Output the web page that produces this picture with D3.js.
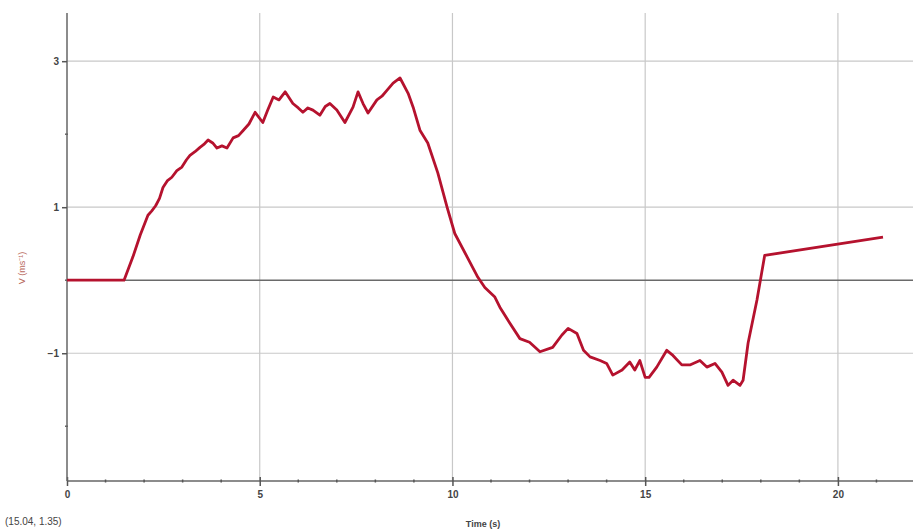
<!DOCTYPE html>
<html><head><meta charset="utf-8">
<script src="https://cdn.jsdelivr.net/npm/d3@7"></script>
<style>
body{margin:0;background:#fff;}
svg{display:block;font-family:"Liberation Sans",Arial,sans-serif;}
</style></head>
<body><svg id="c" width="913" height="530"></svg>
<script>
const time = [0,1.48,1.71,1.9,2.10,2.2,2.3,2.4,2.49,2.6,2.72,2.85,2.98,3.1,3.19,3.32,3.45,3.55,3.66,3.78,3.89,4.02,4.15,4.31,4.45,4.57,4.72,4.88,5.08,5.2,5.35,5.5,5.66,5.86,6.0,6.12,6.25,6.38,6.56,6.7,6.82,7.0,7.21,7.42,7.55,7.68,7.81,8.04,8.17,8.3,8.46,8.64,8.85,8.98,9.16,9.36,9.62,9.86,10.06,10.38,10.66,10.84,11.1,11.23,11.49,11.75,12.0,12.27,12.6,12.84,13.0,13.23,13.4,13.57,13.83,14.0,14.16,14.4,14.6,14.73,14.86,15.0,15.1,15.3,15.56,15.72,15.95,16.16,16.42,16.6,16.81,16.99,17.15,17.28,17.46,17.54,17.67,17.9,18.1,21.17];
const velocity = [0,0,0.32,0.62,0.89,0.95,1.02,1.12,1.27,1.36,1.41,1.5,1.55,1.65,1.71,1.76,1.82,1.86,1.92,1.88,1.81,1.84,1.81,1.95,1.98,2.05,2.14,2.30,2.16,2.32,2.51,2.47,2.58,2.42,2.36,2.30,2.36,2.33,2.26,2.38,2.42,2.33,2.16,2.37,2.58,2.42,2.29,2.47,2.52,2.60,2.70,2.77,2.56,2.37,2.05,1.88,1.47,1.0,0.64,0.32,0.04,-0.1,-0.23,-0.37,-0.59,-0.8,-0.85,-0.98,-0.92,-0.75,-0.66,-0.73,-0.96,-1.05,-1.1,-1.14,-1.3,-1.23,-1.12,-1.23,-1.1,-1.33,-1.33,-1.19,-0.96,-1.03,-1.16,-1.16,-1.1,-1.19,-1.14,-1.26,-1.44,-1.37,-1.44,-1.37,-0.86,-0.27,0.34,0.59];
const xTicks = [0,5,10,15,20];
const yTicks = [-1,1,3];
const xMinor = d3.range(0,23,1);
const yMinor = [-2,0,2];
const cursorText = "(15.04, 1.35)";

const svg = d3.select("#c");
const x = d3.scaleLinear().domain([0,22]).range([67,915]);
const y = d3.scaleLinear().domain([-2.75,3.66]).range([481,13]);

// grid
svg.append("g").selectAll("line").data(xTicks.filter(d=>d>0)).join("line")
  .attr("x1",d=>x(d)).attr("x2",d=>x(d)).attr("y1",y(3.66)).attr("y2",y(-2.75))
  .attr("stroke","#c8c8c8").attr("stroke-width",1.2);
svg.append("g").selectAll("line").data(yTicks).join("line")
  .attr("x1",x(0)).attr("x2",913).attr("y1",d=>y(d)).attr("y2",d=>y(d))
  .attr("stroke","#c8c8c8").attr("stroke-width",1.2);
// zero line
svg.append("line").attr("x1",x(0)).attr("x2",913).attr("y1",y(0)).attr("y2",y(0))
  .attr("stroke","#6a6a6a").attr("stroke-width",1.6);

// axes
const xAxis = d3.axisBottom(x).tickValues(xTicks).tickSize(5).tickFormat(d3.format("d"));
const gx = svg.append("g").attr("transform",`translate(0,${y(-2.75)})`).call(xAxis);
gx.select(".domain").attr("stroke","#666").attr("stroke-width",1.5).attr("d",`M${x(0)},0H913`);
gx.selectAll(".tick line").attr("stroke","#555").attr("stroke-width",1.5).attr("y1",-4).attr("y2",5);
gx.selectAll(".tick text").attr("font-size",10).attr("font-weight","bold").attr("fill","#444").attr("dy","0.9em");
svg.append("g").selectAll("line").data(xMinor.filter(d=>d%5!==0)).join("line")
  .attr("x1",d=>x(d)).attr("x2",d=>x(d)).attr("y1",y(-2.75)-1.5).attr("y2",y(-2.75)+1.5)
  .attr("stroke","#555").attr("stroke-width",1.5);

const yAxis = d3.axisLeft(y).tickValues(yTicks).tickSize(5).tickFormat(d3.format("d"));
const gy = svg.append("g").attr("transform",`translate(${x(0)},0)`).call(yAxis);
gy.select(".domain").attr("stroke","#666").attr("stroke-width",1.5).attr("d",`M0,${y(3.66)}V${y(-2.75)}`);
gy.selectAll(".tick line").attr("stroke","#555").attr("stroke-width",1.5);
gy.selectAll(".tick text").attr("font-size",10).attr("font-weight","bold").attr("fill","#444");
svg.append("g").selectAll("line").data(yMinor).join("line")
  .attr("x1",x(0)-2).attr("x2",x(0)+1).attr("y1",d=>y(d)).attr("y2",d=>y(d))
  .attr("stroke","#666").attr("stroke-width",1.5);

// data line
const pts = time.map((t,i)=>[t,velocity[i]]);
svg.append("path").datum(pts)
  .attr("d",d3.line().x(d=>x(d[0])).y(d=>y(d[1])))
  .attr("fill","none").attr("stroke","#b5122e").attr("stroke-width",2.8)
  .attr("stroke-linejoin","round");

// labels
svg.append("text").attr("transform",`translate(25,268) rotate(-90)`)
  .attr("text-anchor","middle").attr("font-size",9).attr("fill","#b8685c").text("V (ms⁻¹)");
svg.append("text").attr("x",483).attr("y",527).attr("text-anchor","middle")
  .attr("font-size",9).attr("font-weight","bold").attr("fill","#444").text("Time (s)");
svg.append("text").attr("x",5).attr("y",525)
  .attr("font-size",10).attr("fill","#444").text(cursorText);
</script></body></html>
